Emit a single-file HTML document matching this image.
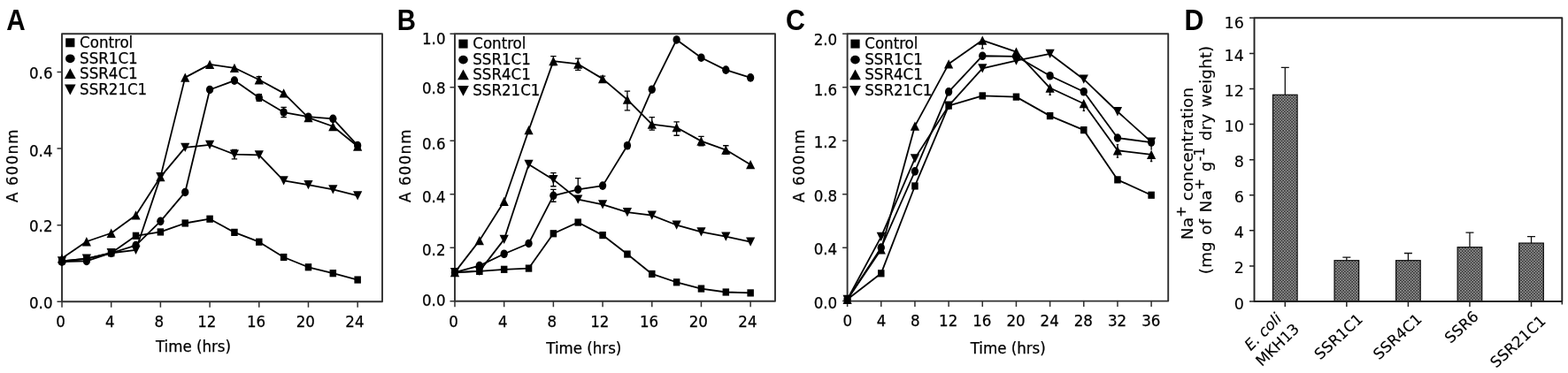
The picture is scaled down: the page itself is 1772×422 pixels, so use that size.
<!DOCTYPE html>
<html><head><meta charset="utf-8"><title>Figure</title>
<style>
html,body{margin:0;padding:0;background:#fff;}
body{width:1772px;height:422px;overflow:hidden;}
svg{display:block;}
text{font-family:'DejaVu Sans Condensed', 'DejaVu Sans', 'Liberation Sans', sans-serif;font-size:18.5px;fill:#000;stroke:#000;stroke-width:0.25px;}
text.dv{font-family:'DejaVu Sans', 'Liberation Sans', sans-serif;stroke-width:0.12px;}
text.pl{font-family:'Liberation Sans', 'DejaVu Sans', sans-serif;font-weight:bold;font-size:33px;stroke:none;}
</style></head>
<body>
<svg width="1772" height="422" viewBox="0 0 1772 422">
<rect width="1772" height="422" fill="#fff"/>
<rect x="70" y="38.3" width="362" height="302.9" fill="none" stroke="#303030" stroke-width="1.9" stroke-linejoin="round"/>
<path d="M64.5 341.2H70M64.5 254.66H70M64.5 168.11H70M64.5 81.57H70M70 341.2V347.7M125.69 341.2V347.7M181.38 341.2V347.7M237.08 341.2V347.7M292.77 341.2V347.7M348.46 341.2V347.7M404.15 341.2V347.7" stroke="#303030" stroke-width="1.5" fill="none"/>
<text transform="translate(59.5 349)" text-anchor="end">0.0</text>
<text transform="translate(59.5 262.46)" text-anchor="end">0.2</text>
<text transform="translate(59.5 177.11)" text-anchor="end">0.4</text>
<text transform="translate(59.5 89.07)" text-anchor="end">0.6</text>
<text transform="translate(68.5 370)" text-anchor="middle">0</text>
<text transform="translate(124.19 370)" text-anchor="middle">4</text>
<text transform="translate(179.88 370)" text-anchor="middle">8</text>
<text transform="translate(233.88 370)" text-anchor="middle">12</text>
<text transform="translate(289.57 370)" text-anchor="middle">16</text>
<text transform="translate(345.26 370)" text-anchor="middle">20</text>
<text transform="translate(400.95 370)" text-anchor="middle">24</text>
<text transform="translate(218.5 397.5)" text-anchor="middle">Time (hrs)</text>
<text transform="translate(19.6 187.8) rotate(-90)" text-anchor="middle" textLength="82.5" lengthAdjust="spacing">A 600nm</text>
<path d="M264.92 179.8V169.41M261.72 179.8H268.12M261.72 169.41H268.12M320.62 132.63V121.38M317.42 132.63H323.82M317.42 121.38H323.82M292.77 114.46V106.67M289.57 114.46H295.97M289.57 106.67H295.97M292.77 93.69V86.76M289.57 93.69H295.97M289.57 86.76H295.97" stroke="#000" stroke-width="1.3" fill="none"/>
<polyline points="70,295.33 97.85,292.74 125.69,286.25 153.54,266.77 181.38,262.45 209.23,252.49 237.08,247.73 264.92,262.88 292.77,273.7 320.62,291.01 348.46,302.26 376.31,309.18 404.15,316.54" fill="none" stroke="#000" stroke-width="1.8" stroke-linejoin="round"/>
<polyline points="70,296.2 97.85,295.33 125.69,286.25 153.54,277.59 181.38,250.33 209.23,217.44 237.08,101.48 264.92,91.09 292.77,110.56 320.62,127.01 348.46,132.2 376.31,134.36 404.15,164.65" fill="none" stroke="#000" stroke-width="1.8" stroke-linejoin="round"/>
<polyline points="70,292.3 97.85,273.26 125.69,263.74 153.54,243.41 181.38,200.14 209.23,87.63 237.08,72.92 264.92,76.81 292.77,90.23 320.62,105.37 348.46,133.06 376.31,143.02 404.15,165.52" fill="none" stroke="#000" stroke-width="1.8" stroke-linejoin="round"/>
<polyline points="70,295.33 97.85,292.74 125.69,286.25 153.54,282.78 181.38,200.14 209.23,166.82 237.08,163.79 264.92,174.6 292.77,175.47 320.62,204.46 348.46,209.22 376.31,214.41 404.15,221.34" fill="none" stroke="#000" stroke-width="1.8" stroke-linejoin="round"/>
<g><rect x="66.25" y="291.23" width="7.5" height="8.2"/><rect x="94.1" y="288.64" width="7.5" height="8.2"/><rect x="121.94" y="282.15" width="7.5" height="8.2"/><rect x="149.79" y="262.67" width="7.5" height="8.2"/><rect x="177.63" y="258.35" width="7.5" height="8.2"/><rect x="205.48" y="248.39" width="7.5" height="8.2"/><rect x="233.33" y="243.63" width="7.5" height="8.2"/><rect x="261.17" y="258.78" width="7.5" height="8.2"/><rect x="289.02" y="269.6" width="7.5" height="8.2"/><rect x="316.87" y="286.91" width="7.5" height="8.2"/><rect x="344.71" y="298.16" width="7.5" height="8.2"/><rect x="372.56" y="305.08" width="7.5" height="8.2"/><rect x="400.4" y="312.44" width="7.5" height="8.2"/></g>
<g><ellipse cx="70" cy="296.2" rx="4.15" ry="4.8"/><ellipse cx="97.85" cy="295.33" rx="4.15" ry="4.8"/><ellipse cx="125.69" cy="286.25" rx="4.15" ry="4.8"/><ellipse cx="153.54" cy="277.59" rx="4.15" ry="4.8"/><ellipse cx="181.38" cy="250.33" rx="4.15" ry="4.8"/><ellipse cx="209.23" cy="217.44" rx="4.15" ry="4.8"/><ellipse cx="237.08" cy="101.48" rx="4.15" ry="4.8"/><ellipse cx="264.92" cy="91.09" rx="4.15" ry="4.8"/><ellipse cx="292.77" cy="110.56" rx="4.15" ry="4.8"/><ellipse cx="320.62" cy="127.01" rx="4.15" ry="4.8"/><ellipse cx="348.46" cy="132.2" rx="4.15" ry="4.8"/><ellipse cx="376.31" cy="134.36" rx="4.15" ry="4.8"/><ellipse cx="404.15" cy="164.65" rx="4.15" ry="4.8"/></g>
<g><path d="M70 287.15L75.1 297.45L64.9 297.45Z"/><path d="M97.85 268.11L102.95 278.41L92.75 278.41Z"/><path d="M125.69 258.59L130.79 268.89L120.59 268.89Z"/><path d="M153.54 238.26L158.64 248.56L148.44 248.56Z"/><path d="M181.38 194.99L186.48 205.29L176.28 205.29Z"/><path d="M209.23 82.48L214.33 92.78L204.13 92.78Z"/><path d="M237.08 67.77L242.18 78.07L231.98 78.07Z"/><path d="M264.92 71.66L270.02 81.96L259.82 81.96Z"/><path d="M292.77 85.08L297.87 95.38L287.67 95.38Z"/><path d="M320.62 100.22L325.72 110.52L315.52 110.52Z"/><path d="M348.46 127.91L353.56 138.21L343.36 138.21Z"/><path d="M376.31 137.87L381.41 148.17L371.21 148.17Z"/><path d="M404.15 160.37L409.25 170.67L399.05 170.67Z"/></g>
<g><path d="M70 300.48L75.1 290.18L64.9 290.18Z"/><path d="M97.85 297.89L102.95 287.59L92.75 287.59Z"/><path d="M125.69 291.4L130.79 281.1L120.59 281.1Z"/><path d="M153.54 287.93L158.64 277.63L148.44 277.63Z"/><path d="M181.38 205.29L186.48 194.99L176.28 194.99Z"/><path d="M209.23 171.97L214.33 161.67L204.13 161.67Z"/><path d="M237.08 168.94L242.18 158.64L231.98 158.64Z"/><path d="M264.92 179.75L270.02 169.45L259.82 169.45Z"/><path d="M292.77 180.62L297.87 170.32L287.67 170.32Z"/><path d="M320.62 209.61L325.72 199.31L315.52 199.31Z"/><path d="M348.46 214.37L353.56 204.07L343.36 204.07Z"/><path d="M376.31 219.56L381.41 209.26L371.21 209.26Z"/><path d="M404.15 226.49L409.25 216.19L399.05 216.19Z"/></g>
<rect x="74.2" y="43.3" width="10.2" height="10"/>
<text transform="translate(90.1 54.1)">Control</text>
<ellipse cx="79.3" cy="66.3" rx="5.3" ry="4.9"/>
<text transform="translate(90.1 71.6)">SSR1C1</text>
<path d="M79.3 77.3L85.7 88.9L72.9 88.9Z"/>
<text transform="translate(90.1 88.6)">SSR4C1</text>
<path d="M79.3 107.4L85.6 95.6L73 95.6Z"/>
<text transform="translate(90.1 106.6)">SSR21C1</text>
<text transform="translate(7.2 34) scale(0.9 1)" class="pl">A</text>
<rect x="514" y="38.3" width="362" height="302.5" fill="none" stroke="#303030" stroke-width="1.9" stroke-linejoin="round"/>
<path d="M508.5 340.8H514M508.5 280.3H514M508.5 219.8H514M508.5 159.3H514M508.5 98.8H514M508.5 38.3H514M514 340.8V347.3M569.69 340.8V347.3M625.38 340.8V347.3M681.08 340.8V347.3M736.77 340.8V347.3M792.46 340.8V347.3M848.15 340.8V347.3" stroke="#303030" stroke-width="1.5" fill="none"/>
<text transform="translate(503.5 346.3)" text-anchor="end">0.0</text>
<text transform="translate(503.5 288.9)" text-anchor="end">0.2</text>
<text transform="translate(503.5 228.6)" text-anchor="end">0.4</text>
<text transform="translate(503.5 168.8)" text-anchor="end">0.6</text>
<text transform="translate(503.5 106)" text-anchor="end">0.8</text>
<text transform="translate(503.5 49.7)" text-anchor="end">1.0</text>
<text transform="translate(512.5 370)" text-anchor="middle">0</text>
<text transform="translate(568.19 370)" text-anchor="middle">4</text>
<text transform="translate(623.88 370)" text-anchor="middle">8</text>
<text transform="translate(677.88 370)" text-anchor="middle">12</text>
<text transform="translate(733.57 370)" text-anchor="middle">16</text>
<text transform="translate(789.26 370)" text-anchor="middle">20</text>
<text transform="translate(844.95 370)" text-anchor="middle">24</text>
<text transform="translate(659.8 400.3)" text-anchor="middle">Time (hrs)</text>
<text transform="translate(464 187.8) rotate(-90)" text-anchor="middle" textLength="82.5" lengthAdjust="spacing">A 600nm</text>
<path d="M625.38 73.69V63.71M622.18 73.69H628.58M622.18 63.71H628.58M653.23 79.44V66.13M650.03 79.44H656.43M650.03 66.13H656.43M708.92 124.82V103.03M705.72 124.82H712.12M705.72 103.03H712.12M736.77 147.2V132.68M733.57 147.2H739.97M733.57 132.68H739.97M764.62 153.25V137.82M761.42 153.25H767.82M761.42 137.82H767.82M792.46 164.75V154.46M789.26 164.75H795.66M789.26 154.46H795.66M820.31 174.43V164.75M817.11 174.43H823.51M817.11 164.75H823.51M681.08 92.15V86.1M677.88 92.15H684.28M677.88 86.1H684.28M625.38 210.73V195.6M622.18 210.73H628.58M622.18 195.6H628.58M625.38 228.27V214.36M622.18 228.27H628.58M622.18 214.36H628.58M653.23 214.36V201.65M650.03 214.36H656.43M650.03 201.65H656.43" stroke="#000" stroke-width="1.3" fill="none"/>
<polyline points="514,308.13 541.85,306.92 569.69,304.8 597.54,303.59 625.38,264.27 653.23,251.56 681.08,266.08 708.92,287.56 736.77,309.94 764.62,319.32 792.46,326.58 820.31,330.51 848.15,331.42" fill="none" stroke="#000" stroke-width="1.8" stroke-linejoin="round"/>
<polyline points="514,308.13 541.85,300.57 569.69,287.26 597.54,275.46 625.38,221.31 653.23,214.36 681.08,210.12 708.92,164.75 736.77,101.22 764.62,44.96 792.46,65.22 820.31,79.14 848.15,87.91" fill="none" stroke="#000" stroke-width="1.8" stroke-linejoin="round"/>
<polyline points="514,308.13 541.85,272.13 569.69,227.97 597.54,147.2 625.38,69.16 653.23,72.48 681.08,89.12 708.92,112.72 736.77,140.54 764.62,144.18 792.46,159.6 820.31,169.59 848.15,186.22" fill="none" stroke="#000" stroke-width="1.8" stroke-linejoin="round"/>
<polyline points="514,308.13 541.85,306.92 569.69,270.92 597.54,185.92 625.38,203.16 653.23,225.55 681.08,231.3 708.92,240.07 736.77,243.7 764.62,254.59 792.46,262.45 820.31,267.6 848.15,273.64" fill="none" stroke="#000" stroke-width="1.8" stroke-linejoin="round"/>
<g><rect x="510.25" y="304.03" width="7.5" height="8.2"/><rect x="538.1" y="302.82" width="7.5" height="8.2"/><rect x="565.94" y="300.7" width="7.5" height="8.2"/><rect x="593.79" y="299.49" width="7.5" height="8.2"/><rect x="621.63" y="260.17" width="7.5" height="8.2"/><rect x="649.48" y="247.46" width="7.5" height="8.2"/><rect x="677.33" y="261.98" width="7.5" height="8.2"/><rect x="705.17" y="283.46" width="7.5" height="8.2"/><rect x="733.02" y="305.84" width="7.5" height="8.2"/><rect x="760.87" y="315.22" width="7.5" height="8.2"/><rect x="788.71" y="322.48" width="7.5" height="8.2"/><rect x="816.56" y="326.41" width="7.5" height="8.2"/><rect x="844.4" y="327.32" width="7.5" height="8.2"/></g>
<g><ellipse cx="514" cy="308.13" rx="4.15" ry="4.8"/><ellipse cx="541.85" cy="300.57" rx="4.15" ry="4.8"/><ellipse cx="569.69" cy="287.26" rx="4.15" ry="4.8"/><ellipse cx="597.54" cy="275.46" rx="4.15" ry="4.8"/><ellipse cx="625.38" cy="221.31" rx="4.15" ry="4.8"/><ellipse cx="653.23" cy="214.36" rx="4.15" ry="4.8"/><ellipse cx="681.08" cy="210.12" rx="4.15" ry="4.8"/><ellipse cx="708.92" cy="164.75" rx="4.15" ry="4.8"/><ellipse cx="736.77" cy="101.22" rx="4.15" ry="4.8"/><ellipse cx="764.62" cy="44.96" rx="4.15" ry="4.8"/><ellipse cx="792.46" cy="65.22" rx="4.15" ry="4.8"/><ellipse cx="820.31" cy="79.14" rx="4.15" ry="4.8"/><ellipse cx="848.15" cy="87.91" rx="4.15" ry="4.8"/></g>
<g><path d="M514 302.98L519.1 313.28L508.9 313.28Z"/><path d="M541.85 266.98L546.95 277.28L536.75 277.28Z"/><path d="M569.69 222.82L574.79 233.12L564.59 233.12Z"/><path d="M597.54 142.05L602.64 152.35L592.44 152.35Z"/><path d="M625.38 64.01L630.48 74.31L620.28 74.31Z"/><path d="M653.23 67.33L658.33 77.63L648.13 77.63Z"/><path d="M681.08 83.97L686.18 94.27L675.98 94.27Z"/><path d="M708.92 107.56L714.02 117.87L703.82 117.87Z"/><path d="M736.77 135.39L741.87 145.69L731.67 145.69Z"/><path d="M764.62 139.03L769.72 149.33L759.52 149.33Z"/><path d="M792.46 154.45L797.56 164.75L787.36 164.75Z"/><path d="M820.31 164.44L825.41 174.74L815.21 174.74Z"/><path d="M848.15 181.07L853.25 191.37L843.05 191.37Z"/></g>
<g><path d="M514 313.28L519.1 302.98L508.9 302.98Z"/><path d="M541.85 312.07L546.95 301.77L536.75 301.77Z"/><path d="M569.69 276.07L574.79 265.77L564.59 265.77Z"/><path d="M597.54 191.07L602.64 180.77L592.44 180.77Z"/><path d="M625.38 208.31L630.48 198.01L620.28 198.01Z"/><path d="M653.23 230.7L658.33 220.4L648.13 220.4Z"/><path d="M681.08 236.45L686.18 226.15L675.98 226.15Z"/><path d="M708.92 245.22L714.02 234.92L703.82 234.92Z"/><path d="M736.77 248.85L741.87 238.55L731.67 238.55Z"/><path d="M764.62 259.74L769.72 249.44L759.52 249.44Z"/><path d="M792.46 267.6L797.56 257.3L787.36 257.3Z"/><path d="M820.31 272.75L825.41 262.45L815.21 262.45Z"/><path d="M848.15 278.79L853.25 268.5L843.05 268.5Z"/></g>
<rect x="518.4" y="44.6" width="10.2" height="10"/>
<text transform="translate(534.3 55.4)">Control</text>
<ellipse cx="523.5" cy="67.6" rx="5.3" ry="4.9"/>
<text transform="translate(534.3 72.9)">SSR1C1</text>
<path d="M523.5 78.6L529.9 90.2L517.1 90.2Z"/>
<text transform="translate(534.3 89.9)">SSR4C1</text>
<path d="M523.5 108.7L529.8 96.9L517.2 96.9Z"/>
<text transform="translate(534.3 107.9)">SSR21C1</text>
<text transform="translate(448.8 34) scale(0.89 1)" class="pl">B</text>
<rect x="957.6" y="38.3" width="362.6" height="302.3" fill="none" stroke="#303030" stroke-width="1.9" stroke-linejoin="round"/>
<path d="M952.1 340.6H957.6M952.1 280.14H957.6M952.1 219.68H957.6M952.1 159.22H957.6M952.1 98.76H957.6M952.1 38.3H957.6M957.6 340.6V347.1M995.77 340.6V347.1M1033.94 340.6V347.1M1072.11 340.6V347.1M1110.27 340.6V347.1M1148.44 340.6V347.1M1186.61 340.6V347.1M1224.78 340.6V347.1M1262.95 340.6V347.1M1301.12 340.6V347.1" stroke="#303030" stroke-width="1.5" fill="none"/>
<text transform="translate(946.2 348.5)" text-anchor="end">0.0</text>
<text transform="translate(946.2 288.14)" text-anchor="end">0.4</text>
<text transform="translate(946.2 227.68)" text-anchor="end">0.8</text>
<text transform="translate(946.2 166.72)" text-anchor="end">1.2</text>
<text transform="translate(946.2 107.76)" text-anchor="end">1.6</text>
<text transform="translate(946.2 50.6)" text-anchor="end">2.0</text>
<text transform="translate(957.9 369)" text-anchor="middle">0</text>
<text transform="translate(996.07 369)" text-anchor="middle">4</text>
<text transform="translate(1034.24 369)" text-anchor="middle">8</text>
<text transform="translate(1071.71 369)" text-anchor="middle">12</text>
<text transform="translate(1109.87 369)" text-anchor="middle">16</text>
<text transform="translate(1148.04 369)" text-anchor="middle">20</text>
<text transform="translate(1186.21 369)" text-anchor="middle">24</text>
<text transform="translate(1224.38 369)" text-anchor="middle">28</text>
<text transform="translate(1262.55 369)" text-anchor="middle">32</text>
<text transform="translate(1300.72 369)" text-anchor="middle">36</text>
<text transform="translate(1139.2 399.5)" text-anchor="middle">Time (hrs)</text>
<text transform="translate(909 187.8) rotate(-90)" text-anchor="middle" textLength="82.5" lengthAdjust="spacing">A 600nm</text>
<path d="M1110.27 54.78V45.56M1108.77 54.78H1111.77M1108.77 45.56H1111.77M1186.61 107.38V100.27M1185.41 107.38H1187.81M1185.41 100.27H1187.81M1224.78 125.36V117.2M1223.58 125.36H1225.98M1223.58 117.2H1225.98M1262.95 178.11V163.6M1261.75 178.11H1264.15M1261.75 163.6H1264.15M1301.12 182.5V174.94M1299.92 182.5H1302.32M1299.92 174.94H1302.32M1301.12 169.8V160.73" stroke="#000" stroke-width="1.3" fill="none"/>
<polyline points="957.6,338.79 995.77,309.31 1033.94,210.46 1072.11,119.62 1110.27,108.43 1148.44,109.64 1186.61,131.11 1224.78,147.13 1262.95,203.36 1301.12,220.74" fill="none" stroke="#000" stroke-width="1.8" stroke-linejoin="round"/>
<polyline points="957.6,338.79 995.77,280.14 1033.94,193.83 1072.11,103.9 1110.27,63.24 1148.44,63.84 1186.61,85.76 1224.78,103.75 1262.95,156.05 1301.12,161.03" fill="none" stroke="#000" stroke-width="1.8" stroke-linejoin="round"/>
<polyline points="957.6,338.79 995.77,282.26 1033.94,142.59 1072.11,72.31 1110.27,45.56 1148.44,58.71 1186.61,99.52 1224.78,117.2 1262.95,170.25 1301.12,174.94" fill="none" stroke="#000" stroke-width="1.8" stroke-linejoin="round"/>
<polyline points="957.6,338.79 995.77,267.9 1033.94,179.32 1072.11,119.62 1110.27,77.45 1148.44,68.53 1186.61,60.97 1224.78,89.69 1262.95,126.27 1301.12,160.58" fill="none" stroke="#000" stroke-width="1.8" stroke-linejoin="round"/>
<g><rect x="953.85" y="334.69" width="7.5" height="8.2"/><rect x="992.02" y="305.21" width="7.5" height="8.2"/><rect x="1030.19" y="206.36" width="7.5" height="8.2"/><rect x="1068.36" y="115.52" width="7.5" height="8.2"/><rect x="1106.52" y="104.33" width="7.5" height="8.2"/><rect x="1144.69" y="105.54" width="7.5" height="8.2"/><rect x="1182.86" y="127.01" width="7.5" height="8.2"/><rect x="1221.03" y="143.03" width="7.5" height="8.2"/><rect x="1259.2" y="199.26" width="7.5" height="8.2"/><rect x="1297.37" y="216.64" width="7.5" height="8.2"/></g>
<g><ellipse cx="957.6" cy="338.79" rx="4.15" ry="4.8"/><ellipse cx="995.77" cy="280.14" rx="4.15" ry="4.8"/><ellipse cx="1033.94" cy="193.83" rx="4.15" ry="4.8"/><ellipse cx="1072.11" cy="103.9" rx="4.15" ry="4.8"/><ellipse cx="1110.27" cy="63.24" rx="4.15" ry="4.8"/><ellipse cx="1148.44" cy="63.84" rx="4.15" ry="4.8"/><ellipse cx="1186.61" cy="85.76" rx="4.15" ry="4.8"/><ellipse cx="1224.78" cy="103.75" rx="4.15" ry="4.8"/><ellipse cx="1262.95" cy="156.05" rx="4.15" ry="4.8"/><ellipse cx="1301.12" cy="161.03" rx="4.15" ry="4.8"/></g>
<g><path d="M957.6 333.64L962.7 343.94L952.5 343.94Z"/><path d="M995.77 277.11L1000.87 287.41L990.67 287.41Z"/><path d="M1033.94 137.44L1039.04 147.74L1028.84 147.74Z"/><path d="M1072.11 67.16L1077.21 77.46L1067.01 77.46Z"/><path d="M1110.27 40.41L1115.37 50.71L1105.17 50.71Z"/><path d="M1148.44 53.56L1153.54 63.86L1143.34 63.86Z"/><path d="M1186.61 94.37L1191.71 104.67L1181.51 104.67Z"/><path d="M1224.78 112.05L1229.88 122.35L1219.68 122.35Z"/><path d="M1262.95 165.1L1268.05 175.4L1257.85 175.4Z"/><path d="M1301.12 169.79L1306.22 180.09L1296.02 180.09Z"/></g>
<g><path d="M957.6 343.94L962.7 333.64L952.5 333.64Z"/><path d="M995.77 273.05L1000.87 262.75L990.67 262.75Z"/><path d="M1033.94 184.47L1039.04 174.17L1028.84 174.17Z"/><path d="M1072.11 124.77L1077.21 114.47L1067.01 114.47Z"/><path d="M1110.27 82.6L1115.37 72.3L1105.17 72.3Z"/><path d="M1148.44 73.68L1153.54 63.38L1143.34 63.38Z"/><path d="M1186.61 66.12L1191.71 55.82L1181.51 55.82Z"/><path d="M1224.78 94.84L1229.88 84.54L1219.68 84.54Z"/><path d="M1262.95 131.42L1268.05 121.12L1257.85 121.12Z"/><path d="M1301.12 165.73L1306.22 155.43L1296.02 155.43Z"/></g>
<rect x="961.4" y="44.6" width="10.2" height="10"/>
<text transform="translate(977.3 55.4)">Control</text>
<ellipse cx="966.5" cy="67.6" rx="5.3" ry="4.9"/>
<text transform="translate(977.3 72.9)">SSR1C1</text>
<path d="M966.5 78.6L972.9 90.2L960.1 90.2Z"/>
<text transform="translate(977.3 89.9)">SSR4C1</text>
<path d="M966.5 108.7L972.8 96.9L960.2 96.9Z"/>
<text transform="translate(977.3 107.9)">SSR21C1</text>
<text transform="translate(888 34) scale(0.92 1)" class="pl">C</text>
<defs><pattern id="hp" x="1441" y="250" width="3.32" height="3.32" patternUnits="userSpaceOnUse"><rect width="3.32" height="3.32" fill="#383838"/><rect width="1.66" height="1.66" fill="#969696"/><rect x="1.66" y="1.66" width="1.66" height="1.66" fill="#969696"/></pattern></defs>
<rect x="1438.48" y="107.29" width="27.6" height="233.71" fill="url(#hp)" stroke="#111" stroke-width="1.25"/>
<rect x="1508.04" y="294.7" width="27.6" height="46.3" fill="url(#hp)" stroke="#111" stroke-width="1.25"/>
<rect x="1577.6" y="294.7" width="27.6" height="46.3" fill="url(#hp)" stroke="#111" stroke-width="1.25"/>
<rect x="1647.16" y="279.67" width="27.6" height="61.33" fill="url(#hp)" stroke="#111" stroke-width="1.25"/>
<rect x="1716.72" y="275.06" width="27.6" height="65.94" fill="url(#hp)" stroke="#111" stroke-width="1.25"/>
<path d="M1452.28 107.29V76.42M1447.78 76.42H1456.78M1521.84 294.7V291.09M1517.34 291.09H1526.34M1591.4 294.7V286.48M1586.9 286.48H1595.9M1660.96 279.67V263.03M1656.46 263.03H1665.46M1730.52 275.06V267.64M1726.02 267.64H1735.02" stroke="#111" stroke-width="1.3" fill="none"/>
<rect x="1417.5" y="20.3" width="347.8" height="320.7" fill="none" stroke="#222" stroke-width="1.9" stroke-linejoin="round"/>
<path d="M1412 341H1417.5M1412 300.91H1417.5M1412 260.82H1417.5M1412 220.74H1417.5M1412 180.65H1417.5M1412 140.56H1417.5M1412 100.48H1417.5M1412 60.39H1417.5M1412 20.3H1417.5M1452.28 341V347M1521.84 341V347M1591.4 341V347M1660.96 341V347M1730.52 341V347M1765.3 341V344.5" stroke="#222" stroke-width="1.5" fill="none"/>
<text transform="translate(1405.8 349.5)" text-anchor="end" class="dv" style="font-size:17.5px">0</text>
<text transform="translate(1405.8 309.41)" text-anchor="end" class="dv" style="font-size:17.5px">2</text>
<text transform="translate(1405.8 269.32)" text-anchor="end" class="dv" style="font-size:17.5px">4</text>
<text transform="translate(1405.8 229.24)" text-anchor="end" class="dv" style="font-size:17.5px">6</text>
<text transform="translate(1405.8 189.15)" text-anchor="end" class="dv" style="font-size:17.5px">8</text>
<text transform="translate(1405.8 149.06)" text-anchor="end" class="dv" style="font-size:17.5px">10</text>
<text transform="translate(1405.8 108.98)" text-anchor="end" class="dv" style="font-size:17.5px">12</text>
<text transform="translate(1405.8 68.89)" text-anchor="end" class="dv" style="font-size:17.5px">14</text>
<text transform="translate(1405.8 32.1)" text-anchor="end" class="dv" style="font-size:17.5px">16</text>
<text transform="translate(1347.8 185.1) rotate(-90)" text-anchor="middle" class="dv">Na<tspan dy="-7.5" font-size="15.5">+</tspan><tspan dy="7.5"> concentration</tspan></text>
<text transform="translate(1368.5 181) rotate(-90)" text-anchor="middle" class="dv" word-spacing="1.6">(mg of Na<tspan dy="-7.5" font-size="16">+</tspan><tspan dy="7.5"> g</tspan><tspan dy="-7.5" font-size="16">-1</tspan><tspan dy="7.5"> dry weight)</tspan></text>
<text transform="translate(1449.28 361.5) rotate(-45)" text-anchor="end" class="dv" style="font-size:17px;font-style:italic">E. coli</text>
<text transform="translate(1469.28 373.5) rotate(-44)" text-anchor="end" class="dv" style="font-size:17px">MKH13</text>
<text transform="translate(1541.34 362.5) rotate(-42.5)" text-anchor="end" class="dv" style="font-size:17px">SSR1C1</text>
<text transform="translate(1607.9 362.5) rotate(-42.5)" text-anchor="end" class="dv" style="font-size:17px">SSR4C1</text>
<text transform="translate(1671.96 359.5) rotate(-42.5)" text-anchor="end" class="dv" style="font-size:17px">SSR6</text>
<text transform="translate(1748.02 364.5) rotate(-42.5)" text-anchor="end" class="dv" style="font-size:17px">SSR21C1</text>
<text transform="translate(1338.4 34) scale(0.92 1)" class="pl">D</text>
</svg>
</body></html>
